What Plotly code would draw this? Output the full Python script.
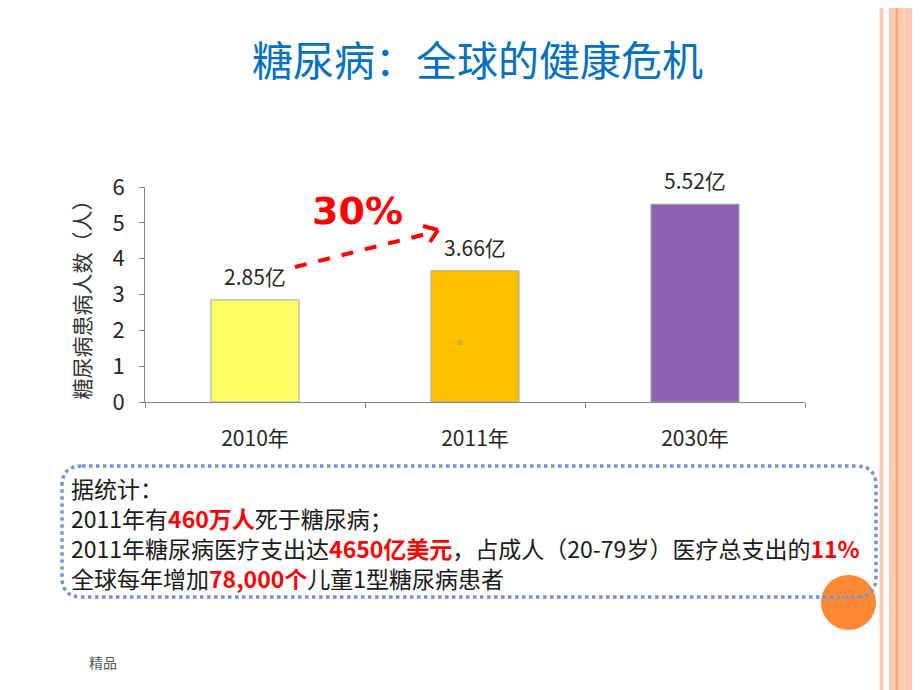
import re
import plotly.graph_objects as go

# ---- data ----
categories = ["2010年", "2011年", "2030年"]
values = [2.85, 3.66, 5.52]
bar_colors = ["#FFFF66", "#FFC000", "#8E60B0"]
value_labels = [f"{v:.2f}亿" for v in values]
y_ticks = [0, 1, 2, 3, 4, 5, 6]

title_text = "糖尿病：全球的健康危机"
y_title = "糖尿病患病人数（人）"
growth_text = "30%"
box_lines = [
    "据统计：",
    "2011年有<b><span style='color:#FF0000'>460万人</span></b>死于糖尿病；",
    "2011年糖尿病医疗支出达<b><span style='color:#FF0000'>4650亿美元</span></b>，占成人（20-79岁）医疗总支出的<b><span style='color:#FF0000'>11%</span></b>",
    "全球每年增加<b><span style='color:#FF0000'>78,000个</span></b>儿童1型糖尿病患者",
]
footer_text = "精品"

W, H = 920, 690
OFF = 8  # page body margin offset
FONT = "Noto Sans CJK SC, Noto Sans, sans-serif"


def px(x):
    return (x - OFF) / W


def py(y):
    return 1 - (y - OFF) / H


fig = go.Figure()
fig.add_trace(go.Bar(
    x=categories, y=values, width=0.4,
    marker=dict(color=bar_colors, line=dict(color="#A6A6A6", width=1)),
    hoverinfo="skip",
))

annotations = []
for c, v, t in zip(categories, values, value_labels):
    annotations.append(dict(x=c, y=v, xref="x", yref="y", text=t, showarrow=False,
                            yanchor="bottom", yshift=7,
                            font=dict(size=21, color="#262626", family=FONT)))
annotations.append(dict(x=px(477), y=py(58), xref="paper", yref="paper", text=title_text,
                        showarrow=False, xanchor="center", yanchor="middle",
                        font=dict(size=41, color="#0070C0", family=FONT)))
annotations.append(dict(x=px(357), y=py(211), xref="paper", yref="paper", text=f"<b>{growth_text}</b>",
                        showarrow=False, xanchor="center", yanchor="middle",
                        font=dict(size=38, color="#FF0000", family="DejaVu Sans, sans-serif")))
annotations.append(dict(x=px(70), y=py(533), xref="paper", yref="paper", text="<br>".join(box_lines),
                        showarrow=False, xanchor="left", yanchor="middle", align="left", borderpad=0,
                        font=dict(size=23, color="#1A1A1A", family=FONT)))
annotations.append(dict(x=px(103), y=py(662), xref="paper", yref="paper", text=footer_text,
                        showarrow=False, xanchor="center", yanchor="middle",
                        font=dict(size=14, color="#595959", family=FONT)))

shapes = []
shapes.append(dict(type="rect", xref="paper", yref="paper", x0=px(889), x1=1.05, y0=-0.05, y1=1.05,
                   fillcolor="#FDCAB3", line=dict(width=0), layer="below"))
shapes.append(dict(type="rect", xref="paper", yref="paper", x0=px(879.5), x1=px(883.5), y0=-0.05, y1=1.05,
                   fillcolor="#FDCAB3", line=dict(width=0), layer="below"))
shapes.append(dict(type="rect", xref="paper", yref="paper", x0=px(895.7), x1=px(897.9), y0=-0.05, y1=1.05,
                   fillcolor="#F9A373", line=dict(width=0), layer="below"))
shapes.append(dict(type="rect", xref="paper", yref="paper", x0=px(903.5), x1=px(905), y0=-0.05, y1=1.05,
                   fillcolor="#FDD6C4", line=dict(width=0), layer="below"))
shapes.append(dict(type="circle", xref="paper", yref="paper", x0=px(821), x1=px(876),
                   y0=py(630), y1=py(575), fillcolor="#FF8833", line=dict(width=0)))
x0, x1, y0, y1, r = 62, 876, 466, 597, 20
path = (f"M {x0 + r},{y0} L {x1 - r},{y0} Q {x1},{y0} {x1},{y0 + r} L {x1},{y1 - r} "
        f"Q {x1},{y1} {x1 - r},{y1} L {x0 + r},{y1} Q {x0},{y1} {x0},{y1 - r} "
        f"L {x0},{y0 + r} Q {x0},{y0} {x0 + r},{y0} Z")


def conv(m):
    a, b = float(m.group(1)), float(m.group(2))
    return f"{px(a):.5f},{py(b):.5f}"


path = re.sub(r"([\d.]+),([\d.]+)", conv, path)
shapes.append(dict(type="path", xref="paper", yref="paper", path=path,
                   line=dict(color="#7094DB", width=3.5, dash="dot")))
shapes.append(dict(type="line", xref="paper", yref="paper", x0=px(295), y0=py(267),
                   x1=px(434), y1=py(232), line=dict(color="#FF0000", width=4, dash="dash")))
shapes.append(dict(type="line", xref="paper", yref="paper", x0=px(423), y0=py(226),
                   x1=px(438), y1=py(230), line=dict(color="#FF0000", width=4)))
shapes.append(dict(type="line", xref="paper", yref="paper", x0=px(430), y0=py(242),
                   x1=px(438), y1=py(230), line=dict(color="#FF0000", width=4)))
shapes.append(dict(type="rect", xref="paper", yref="paper", x0=px(457.5), x1=px(462.5),
                   y0=py(345), y1=py(340), fillcolor="#D8AE2E", line=dict(width=0)))

fig.update_layout(
    width=W, height=H, autosize=False,
    margin=dict(l=0, r=0, t=0, b=0, pad=0, autoexpand=False),
    paper_bgcolor="white", plot_bgcolor="white",
    showlegend=False,
    xaxis=dict(domain=[px(145), px(805)], range=[-0.5, 2.5], type="category",
               automargin=False,
               showline=True, linecolor="#868686", linewidth=1,
               ticks="outside", tickson="boundaries", ticklen=5, tickcolor="#868686",
               showgrid=False, ticklabelstandoff=18,
               tickfont=dict(size=21, color="#262626", family=FONT)),
    yaxis=dict(domain=[py(402), py(187)], range=[0, 6], tickvals=y_ticks,
               automargin=False,
               showline=True, linecolor="#868686", linewidth=1,
               ticks="outside", ticklen=5, tickcolor="#868686",
               showgrid=False, zeroline=False, ticklabelstandoff=10,
               tickfont=dict(size=22, color="#262626", family=FONT),
               title=dict(text=y_title, standoff=16,
                          font=dict(size=21, color="#333333", family=FONT))),
    annotations=annotations,
    shapes=shapes,
)

fig.write_html("out.html")
